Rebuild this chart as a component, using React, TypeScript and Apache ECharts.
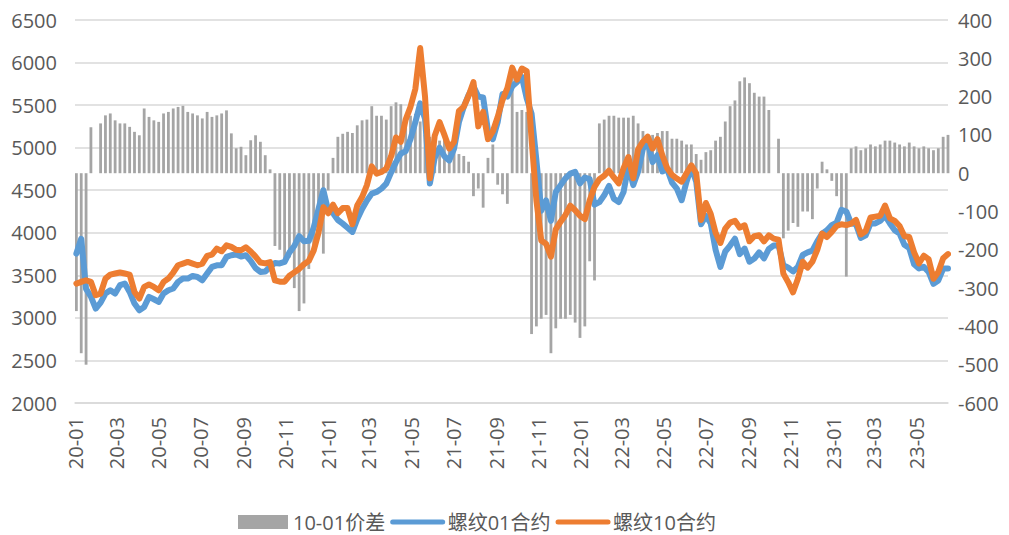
import React, { useEffect, useRef } from "react";
import * as echarts from "echarts";

// Weekly observations, first one on 2020-01-03 (Friday), one per week.
const FIRST_DATE = [2020, 0, 3];
const LAST_AXIS_DATE = [2023, 5, 16];

const tickLabels = [
  "20-01", "20-03", "20-05", "20-07", "20-09", "20-11",
  "21-01", "21-03", "21-05", "21-07", "21-09", "21-11",
  "22-01", "22-03", "22-05", "22-07", "22-09", "22-11",
  "23-01", "23-03", "23-05",
];

// 10-01价差 (right axis)
const spread: (number | null)[] = [
  -360, -470, -500, 120, null, 130, 151, 156, 138, 130,
  130, 121, 108, 99, 169, 147, 138, 134, 156, 160,
  169, 173, 176, 160, 156, 151, 143, 160, 147, 151,
  156, 164, 104, 65, 69, 47, 86, 99, 82, 47,
  10, -190, -200, -230, -220, -300, -360, -340, -250, -195,
  -150, -210, -45, 40, 95, 103, 108, 105, 125, 138,
  140, 175, 150, 150, 140, 175, 185, 180, 125, 150,
  155, 135, 100, 95, 80, 85, 100, 80, 75, 50,
  45, 30, -60, -40, -90, 40, 75, -30, -55, -80,
  280, 160, 165, 160, -420, -400, -380, -370, -470, -405,
  -380, -380, -370, -390, -430, -400, -230, -280, 130, 140,
  150, 150, 145, 145, 145, 150, 130, 110, 95, 100,
  105, 110, 110, 90, 90, 85, 75, 75, 50, 35,
  55, 60, 85, 95, 135, 175, 190, 240, 250, 235,
  210, 200, 200, 165, null, 90, -170, -150, -130, -140,
  -100, -100, -120, -40, 30, 10, -20, -60, -100, -270,
  65, 70, 60, 65, 75, 70, 75, 85, 85, 80,
  75, 70, 80, 70, 65, 70, 65, 60, 65, 95,
  100,
];

// 螺纹01合约 (left axis)
const rebar01: number[] = [
  3756, 3930, 3340, 3250, 3110, 3180, 3286, 3325, 3286, 3384,
  3403, 3305, 3168, 3090, 3129, 3247, 3219, 3188, 3286, 3325,
  3345, 3423, 3462, 3462, 3493, 3481, 3442, 3521, 3599, 3618,
  3618, 3716, 3736, 3744, 3720, 3736, 3670, 3585, 3540, 3545,
  3600, 3645, 3640, 3658, 3770, 3845, 3960, 3900, 3905, 4060,
  4280, 4500, 4260, 4230, 4150, 4108, 4060, 4010, 4160, 4280,
  4380, 4460, 4480, 4519, 4578, 4710, 4830, 4930, 4960, 5100,
  5300, 5520, 5340, 4580, 4880, 5000, 4900, 4850, 4990, 5300,
  5480, 5620, 5720, 5600, 5590, 5200, 5100, 5300, 5630, 5600,
  5720, 5772, 5831, 5580, 5400, 4850, 4260, 4380, 4140, 4480,
  4560, 4640, 4695, 4715, 4580, 4650, 4630, 4330, 4360, 4440,
  4550, 4400, 4360, 4480, 4790, 4560, 4720, 4990, 5060, 4830,
  4911, 4720, 4750, 4590, 4520, 4382, 4600, 4770, 4600, 4100,
  4200, 4110, 3800, 3600, 3780, 3850, 3930, 3750, 3814, 3660,
  3697, 3770, 3700, 3810, 3850, 3853, 3620, 3590, 3545, 3600,
  3740, 3770, 3790, 3900, 3990, 4030, 4090, 4120, 4270, 4250,
  4110, 4100, 3940, 3970, 4110, 4110, 4140, 4200, 4110, 4030,
  3990, 3860, 3820, 3630, 3580, 3600, 3540, 3400, 3440, 3580,
  3580,
];

// 螺纹10合约 (left axis)
const rebar10: number[] = [
  3403, 3423, 3442, 3423, 3266, 3286, 3462, 3509, 3521, 3533,
  3521, 3509, 3305, 3227, 3364, 3392, 3364, 3325, 3423, 3462,
  3533, 3618, 3638, 3658, 3638, 3618, 3638, 3728, 3744, 3814,
  3783, 3853, 3834, 3800, 3795, 3830, 3780, 3720, 3650, 3640,
  3655, 3440, 3425, 3425, 3495, 3535, 3575, 3630, 3670, 3790,
  4000, 4300, 4230, 4330, 4230, 4290, 4290, 4100, 4320, 4420,
  4560, 4780, 4695, 4715, 4754, 4900, 5120, 5070, 5330, 5480,
  5690, 6170, 5600, 4640, 5140, 5300, 5150, 4990, 5070, 5430,
  5480, 5610, 5770, 5250, 5420, 5100, 5190, 5360, 5560, 5700,
  5940, 5800, 5930, 5900, 5100, 4380, 3910, 3870, 3720, 4040,
  4130, 4210, 4320, 4265, 4200, 4160, 4380, 4540, 4630, 4670,
  4730, 4650, 4580, 4760, 4890, 4640, 4980, 5070, 5130, 4990,
  5100, 4911, 4760, 4680, 4637, 4600, 4700, 4793, 4700, 4150,
  4350, 4220, 4000, 3880, 4050, 4120, 4140, 4060, 4088, 3900,
  3960, 3971, 3900, 3970, 3931, 3920, 3520, 3420, 3300, 3460,
  3660, 3590, 3660, 3800, 3990, 3950, 4010, 4080, 4100, 4090,
  4108, 4150, 3980, 4020, 4180, 4190, 4200, 4320, 4170, 4140,
  4080, 3960, 3950, 3770, 3640, 3730, 3690, 3460, 3540, 3700,
  3750,
];

const FONT = '"Open Sans", "Noto Sans CJK SC", sans-serif';
const TEXT_COLOR = "#595959";
const GRID_COLOR = "#d9d9d9";
const BLUE = "#5b9bd5";
const ORANGE = "#ed7d31";

function buildDates(n: number): number[] {
  const out: number[] = [];
  for (let i = 0; i < n; i++) {
    const d = new Date(FIRST_DATE[0], FIRST_DATE[1], FIRST_DATE[2] + i * 7);
    out.push(d.getTime());
  }
  return out;
}

function tickValue(label: string): number {
  const [yy, mm] = label.split("-").map(Number);
  return new Date(2000 + yy, mm - 1, 1).getTime();
}

function fmt(v: number): string {
  const d = new Date(v + 12 * 3600 * 1000);
  const yy = String(d.getFullYear() % 100).padStart(2, "0");
  const mm = String(d.getMonth() + 1).padStart(2, "0");
  return `${yy}-${mm}`;
}

export default function App() {
  const ref = useRef<HTMLDivElement>(null);

  useEffect(() => {
    document.body.style.margin = "0";
    if (!ref.current) return;
    const chart = echarts.init(ref.current, undefined, { renderer: "svg" });
    const dates = buildDates(rebar01.length);
    const ticks = tickLabels.map(tickValue);

    chart.setOption({
      animation: false,
      backgroundColor: "#ffffff",
      textStyle: { fontFamily: FONT },
      grid: { left: 75, right: 61, top: 20, bottom: 132, containLabel: false },
      legend: {
        left: 233,
        top: 507,
        itemWidth: 50,
        itemHeight: 14,
        itemGap: 5,
        textStyle: { color: TEXT_COLOR, fontSize: 20, fontFamily: FONT },
        data: [
          { name: "10-01价差", icon: "rect" },
          {
            name: "螺纹01合约",
            itemStyle: { opacity: 0 },
            lineStyle: { width: 5, cap: "round", color: BLUE },
          },
          {
            name: "螺纹10合约",
            itemStyle: { opacity: 0 },
            lineStyle: { width: 5, cap: "round", color: ORANGE },
          },
        ],
      },
      xAxis: {
        type: "value",
        scale: true,
        min: new Date(2020, 0, 1).getTime(),
        max: new Date(LAST_AXIS_DATE[0], LAST_AXIS_DATE[1], LAST_AXIS_DATE[2]).getTime(),
        axisLine: { show: true, onZero: false, lineStyle: { color: GRID_COLOR, width: 1.5 } },
        axisTick: { show: false },
        splitLine: { show: false },
        axisLabel: {
          rotate: 90,
          margin: 14,
          color: TEXT_COLOR,
          fontSize: 20,
          fontFamily: FONT,
          customValues: ticks,
          hideOverlap: false,
          showMinLabel: true,
          showMaxLabel: true,
          formatter: (v: number) => fmt(v),
        },
      },
      yAxis: [
        {
          type: "value",
          min: 2000,
          max: 6500,
          interval: 500,
          axisLine: { show: false },
          axisTick: { show: false },
          axisLabel: {
            color: TEXT_COLOR,
            fontSize: 20,
            fontFamily: FONT,
            margin: 18,
            formatter: (v: number) => String(v),
          },
          splitLine: { show: true, lineStyle: { color: GRID_COLOR, width: 1.5 } },
        },
        {
          type: "value",
          position: "right",
          min: -600,
          max: 400,
          interval: 100,
          axisLine: { show: false },
          axisTick: { show: false },
          axisLabel: {
            color: TEXT_COLOR,
            fontSize: 20,
            fontFamily: FONT,
            margin: 10,
            formatter: (v: number) => String(v),
          },
          splitLine: { show: false },
        },
      ],
      series: [
        {
          name: "10-01价差",
          type: "bar",
          yAxisIndex: 1,
          barWidth: 2.8,
          itemStyle: { color: "#a5a5a5" },
          data: dates.map((d, i) => [d, spread[i]]),
        },
        {
          name: "螺纹01合约",
          type: "line",
          yAxisIndex: 0,
          symbol: "none",
          itemStyle: { color: BLUE },
          lineStyle: { color: BLUE, width: 6, cap: "round", join: "round" },
          data: dates.map((d, i) => [d, rebar01[i]]),
        },
        {
          name: "螺纹10合约",
          type: "line",
          yAxisIndex: 0,
          symbol: "none",
          itemStyle: { color: ORANGE },
          lineStyle: { color: ORANGE, width: 6, cap: "round", join: "round" },
          data: dates.map((d, i) => [d, rebar10[i]]),
        },
      ],
    });

    return () => chart.dispose();
  }, []);

  return <div ref={ref} style={{ width: 1009, height: 535 }} />;
}
